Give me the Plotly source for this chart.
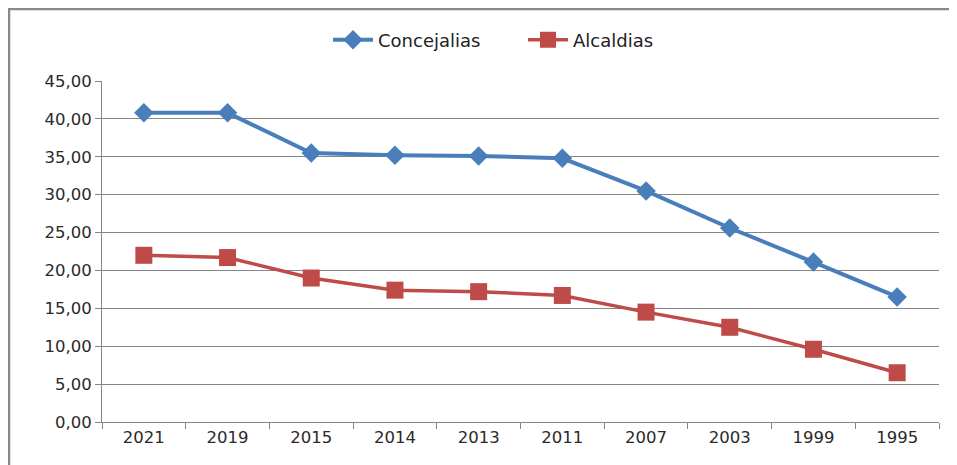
import plotly.graph_objects as go

years = ["2021", "2019", "2015", "2014", "2013", "2011", "2007", "2003", "1999", "1995"]
concejalias = [40.8, 40.8, 35.5, 35.2, 35.1, 34.8, 30.5, 25.6, 21.1, 16.5]
alcaldias = [22.0, 21.7, 19.0, 17.4, 17.2, 16.7, 14.5, 12.5, 9.6, 6.5]
y_ticks = [0, 5, 10, 15, 20, 25, 30, 35, 40, 45]
y_labels = ["0,00", "5,00", "10,00", "15,00", "20,00", "25,00", "30,00", "35,00", "40,00", "45,00"]

W, H = 949, 457
L, R, T, B = 94, 18, 73, 43
pw, ph = W - L - R, H - T - B

def px(x):
    return (x - L) / pw

def py(y):
    return (H - B - y) / ph

fig = go.Figure()
fig.add_trace(go.Scatter(
    x=years, y=concejalias, name="Concejalias", mode="lines+markers",
    line=dict(color="#4A7EBB", width=4),
    marker=dict(symbol="diamond", size=15, color="#4A7EBB"),
))
fig.add_trace(go.Scatter(
    x=years, y=alcaldias, name="Alcaldias", mode="lines+markers",
    line=dict(color="#BE4B48", width=3.5),
    marker=dict(symbol="square", size=17, color="#BE4B48"),
))

axis_col = "#868686"
tick_font = dict(family="DejaVu Sans, sans-serif", size=16.5, color="#2a2a2a")
fig.update_layout(
    width=W, height=H,
    margin=dict(l=L, r=R, t=T, b=B),
    paper_bgcolor="white", plot_bgcolor="white",
    font=dict(family="DejaVu Sans, sans-serif", size=16, color="#2a2a2a"),
    showlegend=True,
    legend=dict(orientation="h", x=px(320), xanchor="left", y=py(32), yanchor="middle",
                font=dict(family="DejaVu Sans, sans-serif", size=18, color="#222222"),
                itemwidth=40, traceorder="normal", entrywidth=140, entrywidthmode="pixels"),
    xaxis=dict(type="category", showgrid=False, showline=True, linecolor=axis_col, linewidth=1,
               ticks="outside", tickson="boundaries", ticklen=6, tickcolor=axis_col,
               tickfont=tick_font, range=[-0.5, 9.5], fixedrange=True),
    yaxis=dict(range=[0, 45], tickvals=y_ticks, ticktext=y_labels, showgrid=True,
               gridcolor=axis_col, gridwidth=1, showline=True, linecolor=axis_col, linewidth=1,
               ticks="outside", ticklen=6, tickcolor=axis_col, zeroline=False,
               tickfont=tick_font),
    shapes=[
        dict(type="line", xref="paper", yref="paper", x0=px(0), x1=px(W + 2), y0=py(1), y1=py(1),
             line=dict(color="#888888", width=2.5)),
        dict(type="line", xref="paper", yref="paper", x0=px(1), x1=px(1), y0=py(0), y1=py(H + 2),
             line=dict(color="#888888", width=2.5)),
    ],
)

fig.write_html("out.html")
